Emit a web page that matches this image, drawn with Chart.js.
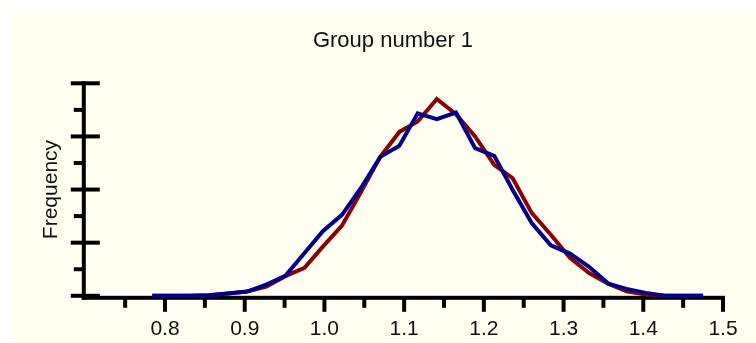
<!DOCTYPE html>
<html>
<head>
<meta charset="utf-8">
<title>Group number 1</title>
<script src="https://cdn.jsdelivr.net/npm/chart.js@4.4.1/dist/chart.umd.min.js"></script>
<style>
  html, body { margin: 0; padding: 0; background: #fff; }
  #wrap { position: relative; width: 756px; height: 343px; overflow: hidden; }
  #paper { position: absolute; left: 9px; top: 7px; right: 0; bottom: 0; background: #fefff0; }
  #histChart { position: absolute; left: 0; top: 0; }
</style>
</head>
<body>
<div id="wrap">
  <div id="paper"></div>
  <canvas id="histChart" width="756" height="343"></canvas>
</div>
<script>
// bin centres of the frequency distribution
const binCenters = [0.784, 0.808, 0.831, 0.855, 0.879, 0.903, 0.927, 0.951, 0.975, 0.998,
                    1.022, 1.046, 1.070, 1.094, 1.117, 1.141, 1.165, 1.189, 1.213, 1.236,
                    1.260, 1.284, 1.308, 1.332, 1.356, 1.379, 1.403, 1.427, 1.451, 1.475];

const redSeries = [0, 0, 0, 0.2, 0.9, 1.6, 3.5, 7.4, 10.5, 18.5,
                   26.4, 39.2, 52.3, 61.7, 65.6, 74.1, 68.4, 60.0, 49.3, 44.3,
                   31.2, 23.0, 14.3, 8.6, 4.6, 1.7, 0.5, 0, 0, 0];

const blueSeries = [0, 0, 0, 0.2, 0.9, 1.6, 4.2, 7.5, 16.1, 24.3,
                    30.5, 40.7, 52.3, 56.5, 68.7, 66.5, 69.0, 55.6, 52.7, 39.9,
                    27.4, 19.0, 15.9, 10.9, 4.6, 2.6, 1.1, 0, 0, 0];

// axis ticks
const xLabelTicks = [0.8, 0.9, 1.0, 1.1, 1.2, 1.3, 1.4, 1.5];
const xMinorTicks = [0.75, 0.85, 0.95, 1.05, 1.15, 1.25, 1.35, 1.45];
const yMajorTicks = [0, 20, 40, 60, 80];
const yMinorTicks = [10, 30, 50, 70];

const fontFamily = '"Liberation Sans", Arial, Helvetica, sans-serif';

function toPoints(values) {
    return values.map((v, i) => ({ x: binCenters[i], y: v }));
}

// Prism-style axes: thick black lines, ticks crossing the y axis
const prismAxes = {
    id: 'prismAxes',
    beforeDatasetsDraw(chart) {
        const { ctx, scales: { x, y } } = chart;
        const axisX = x.getPixelForValue(0.7) - 1.5;
        const axisY = y.getPixelForValue(0) + 2;
        const topY = y.getPixelForValue(80);
        const rightX = x.getPixelForValue(1.5);
        ctx.save();
        ctx.fillStyle = '#000';
        // axis lines
        ctx.fillRect(axisX - 2, topY - 2, 4, axisY + 2 - (topY - 2));
        ctx.fillRect(axisX - 2, axisY - 2, rightX + 2 - (axisX - 2), 4);
        // y ticks
        yMajorTicks.forEach(v => {
            const py = y.getPixelForValue(v);
            ctx.fillRect(axisX - 13, py - 2, 29, 4);
        });
        yMinorTicks.forEach(v => {
            const py = y.getPixelForValue(v);
            ctx.fillRect(axisX - 10, py - 2, 10, 4);
        });
        // x ticks
        xLabelTicks.forEach(v => {
            const px = x.getPixelForValue(v);
            ctx.fillRect(px - 2, axisY, 4, 14);
        });
        xMinorTicks.forEach(v => {
            const px = x.getPixelForValue(v);
            ctx.fillRect(px - 2, axisY, 4, 10);
        });
        ctx.restore();
    }
};

const ctx = document.getElementById('histChart').getContext('2d');
const histChart = new Chart(ctx, {
    type: 'line',
    data: {
        datasets: [
            {
                label: 'Red',
                data: toPoints(redSeries),
                borderColor: '#8b0000',
                borderWidth: 4,
                pointRadius: 0,
                tension: 0,
                clip: false,
                order: 2
            },
            {
                label: 'Blue',
                data: toPoints(blueSeries),
                borderColor: '#00008b',
                borderWidth: 4,
                pointRadius: 0,
                tension: 0,
                clip: false,
                order: 1
            }
        ]
    },
    options: {
        responsive: false,
        animation: false,
        devicePixelRatio: 1,
        layout: { padding: { left: 63, right: 33, top: 0, bottom: 1 } },
        plugins: {
            legend: { display: false },
            tooltip: { enabled: false },
            title: {
                display: true,
                text: 'Group number 1',
                color: '#111',
                font: { family: fontFamily, size: 22, weight: 'normal' },
                padding: { top: 27.5, bottom: 29.4 }
            }
        },
        scales: {
            x: {
                type: 'linear',
                min: 0.7,
                max: 1.5,
                afterBuildTicks(scale) {
                    scale.ticks = xLabelTicks.map(v => ({ value: v }));
                },
                ticks: {
                    color: '#111',
                    padding: 0,
                    maxRotation: 0,
                    font: { family: fontFamily, size: 21 }
                },
                grid: {
                    display: true,
                    drawOnChartArea: false,
                    drawTicks: true,
                    tickLength: 21,
                    tickColor: 'rgba(0,0,0,0)'
                },
                border: { display: false }
            },
            y: {
                min: 0,
                max: 80,
                ticks: { display: false },
                grid: { display: false, drawTicks: false },
                border: { display: false },
                title: {
                    display: true,
                    text: 'Frequency',
                    color: '#111',
                    font: { family: fontFamily, size: 21 },
                    padding: { top: -24, bottom: 21.1 }
                }
            }
        }
    },
    plugins: [prismAxes]
});
</script>
</body>
</html>
